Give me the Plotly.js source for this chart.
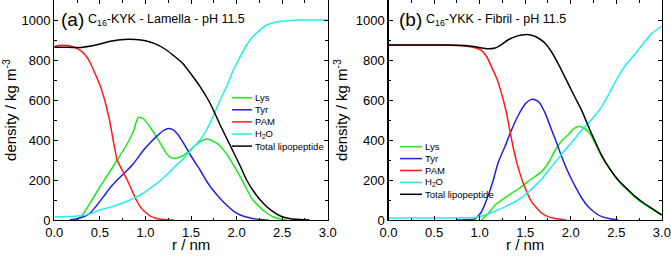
<!DOCTYPE html>
<html>
<head>
<meta charset="utf-8">
<script src="https://cdn.plot.ly/plotly-3.0.1.min.js"></script>
<style>html,body{margin:0;padding:0;background:#fff;}#chart{width:671px;height:259px;}</style>
</head>
<body>
<div id="chart"></div>
<script>
// ---- Panel (a): C16-KYK Lamella pH 11.5 ----
const a_lys_r = [0.25, 0.3, 0.4, 0.5, 0.6, 0.69, 0.78, 0.87, 0.92, 0.98, 1.05, 1.12, 1.18, 1.23, 1.28, 1.32, 1.38, 1.45, 1.52, 1.6, 1.67, 1.74, 1.82, 1.89, 1.96, 2.04, 2.11, 2.18, 2.26, 2.33, 2.4, 2.48, 2.55];
const a_lys_d = [0, 20, 90, 165, 235, 300, 365, 445, 513, 505, 465, 417, 370, 333, 312, 308, 315, 333, 362, 392, 405, 395, 370, 330, 280, 217, 155, 100, 62, 35, 16, 5, 0];
const a_tyr_r = [0.17, 0.25, 0.32, 0.39, 0.46, 0.54, 0.61, 0.69, 0.78, 0.87, 0.98, 1.05, 1.12, 1.19, 1.25, 1.3, 1.36, 1.42, 1.5, 1.6, 1.67, 1.74, 1.82, 1.89, 1.96, 2.04, 2.15, 2.26, 2.35];
const a_tyr_d = [0, 6, 16, 33, 70, 117, 160, 200, 240, 283, 350, 385, 417, 445, 458, 452, 425, 383, 320, 250, 195, 150, 108, 75, 47, 25, 10, 3, 0];
const a_pam_r = [0.0, 0.05, 0.1, 0.15, 0.2, 0.25, 0.3, 0.34, 0.39, 0.43, 0.5, 0.55, 0.58, 0.61, 0.65, 0.69, 0.75, 0.8, 0.85, 0.9, 0.95, 1.01, 1.06, 1.12, 1.2, 1.31];
const a_pam_d = [868, 872, 874, 872, 866, 858, 843, 825, 790, 750, 675, 605, 550, 490, 390, 300, 245, 200, 150, 100, 62, 35, 18, 8, 3, 0];
const a_h2o_r = [0.0, 0.1, 0.2, 0.32, 0.4, 0.5, 0.6, 0.69, 0.78, 0.87, 0.96, 1.05, 1.14, 1.23, 1.32, 1.42, 1.5, 1.6, 1.67, 1.75, 1.82, 1.89, 1.96, 2.04, 2.11, 2.18, 2.26, 2.33, 2.42, 2.51, 2.6, 2.7, 2.8, 3.0];
const a_h2o_d = [15, 16, 18, 22, 32, 50, 62, 75, 90, 108, 130, 158, 188, 225, 265, 308, 350, 400, 450, 525, 600, 667, 745, 817, 875, 917, 952, 975, 988, 995, 998, 1000, 1000, 1000];
const a_tot_r = [0.0, 0.1, 0.2, 0.28, 0.4, 0.5, 0.6, 0.7, 0.83, 0.95, 1.05, 1.15, 1.23, 1.32, 1.41, 1.5, 1.6, 1.69, 1.74, 1.82, 1.89, 1.96, 2.04, 2.11, 2.2, 2.29, 2.38, 2.48, 2.59, 2.7, 2.8];
const a_tot_d = [864, 864, 863, 862, 870, 880, 892, 900, 904, 900, 890, 872, 850, 818, 783, 730, 667, 600, 555, 475, 410, 345, 270, 200, 135, 85, 48, 20, 6, 2, 0];

// ---- Panel (b): C16-YKK Fibril pH 11.5 ----
const b_lys_r = [1.02, 1.1, 1.17, 1.26, 1.35, 1.44, 1.53, 1.6, 1.68, 1.76, 1.83, 1.9, 1.97, 2.03, 2.08, 2.14, 2.21, 2.28, 2.34, 2.43, 2.52, 2.62, 2.71, 2.8, 2.89, 3.0];
const b_lys_d = [0, 35, 75, 105, 133, 160, 192, 215, 242, 290, 350, 395, 425, 455, 468, 460, 432, 372, 318, 253, 198, 150, 112, 80, 55, 25];
const b_tyr_r = [0.75, 0.85, 0.95, 1.02, 1.09, 1.15, 1.2, 1.28, 1.35, 1.42, 1.5, 1.56, 1.6, 1.65, 1.72, 1.79, 1.85, 1.9, 1.97, 2.05, 2.12, 2.19, 2.27, 2.34, 2.43, 2.52];
const b_tyr_d = [0, 1, 6, 40, 117, 200, 283, 370, 450, 520, 580, 602, 603, 590, 533, 450, 380, 317, 240, 167, 110, 67, 35, 17, 6, 0];
const b_pam_r = [0.0, 0.2, 0.4, 0.6, 0.75, 0.88, 0.96, 1.02, 1.08, 1.13, 1.19, 1.24, 1.29, 1.33, 1.37, 1.41, 1.48, 1.57, 1.68, 1.75, 1.83, 1.95];
const b_pam_d = [875, 875, 875, 875, 873, 868, 860, 848, 815, 767, 705, 633, 545, 450, 360, 283, 183, 92, 35, 17, 7, 0];
const b_h2o_r = [0.0, 0.3, 0.6, 0.8, 0.95, 1.02, 1.09, 1.16, 1.24, 1.33, 1.42, 1.51, 1.6, 1.7, 1.79, 1.88, 1.97, 2.05, 2.12, 2.19, 2.27, 2.34, 2.43, 2.52, 2.61, 2.71, 2.8, 2.89, 3.0];
const b_h2o_d = [10, 10, 10, 11, 13, 20, 30, 42, 58, 78, 100, 130, 167, 215, 267, 318, 367, 410, 450, 483, 525, 567, 640, 717, 780, 833, 885, 933, 970];
const b_tot_r = [0.0, 0.3, 0.6, 0.85, 0.95, 1.02, 1.09, 1.17, 1.24, 1.31, 1.4, 1.46, 1.52, 1.6, 1.66, 1.72, 1.79, 1.86, 1.97, 2.05, 2.12, 2.21, 2.28, 2.34, 2.43, 2.52, 2.62, 2.71, 2.8, 2.89, 3.0];
const b_tot_d = [875, 875, 875, 873, 866, 860, 856, 860, 877, 900, 918, 925, 928, 920, 905, 883, 840, 783, 683, 610, 548, 450, 380, 322, 255, 200, 155, 117, 85, 58, 25];

const legendNames = ['Lys', 'Tyr', 'PAM', 'H<sub>2</sub>O', 'Total lipopeptide'];
const colors = ['#1ee81e', '#2020e0', '#ff1a1a', '#22eeee', '#000000'];
const panelLabels = ['(a)', '(b)'];
const panelTitles = ['C<sub>16</sub>-KYK - Lamella - pH 11.5', 'C<sub>16</sub>-YKK - Fibril - pH 11.5'];
const xTitle = 'r / nm';
const yTitle = 'density / kg m<sup>-3</sup>';

const W = 671, H = 259, MB = 39;
const PH = H - MB; // plot-area (paper) height in px
const py = (px) => 1 - px / PH; // convert pixel row to paper y

const panelA = [[a_lys_r, a_lys_d], [a_tyr_r, a_tyr_d], [a_pam_r, a_pam_d], [a_h2o_r, a_h2o_d], [a_tot_r, a_tot_d]];
const panelB = [[b_lys_r, b_lys_d], [b_tyr_r, b_tyr_d], [b_pam_r, b_pam_d], [b_h2o_r, b_h2o_d], [b_tot_r, b_tot_d]];

const traces = [];
[panelA, panelB].forEach((panel, p) => {
  panel.forEach((s, i) => {
    traces.push({
      x: s[0], y: s[1], type: 'scatter', mode: 'lines',
      line: {color: colors[i], width: 1.5, shape: 'spline', smoothing: 0.5},
      xaxis: p === 0 ? 'x' : 'x2', yaxis: p === 0 ? 'y' : 'y2',
      showlegend: false, hoverinfo: 'skip'
    });
  });
});

const fontFam = 'Liberation Sans, Arial, sans-serif';
function axisX(dom, anchor) {
  return {
    domain: dom, anchor: anchor, range: [0, 3], dtick: 0.5, tick0: 0, tickformat: '.1f',
    ticks: 'inside', ticklen: 4, tickwidth: 1, tickcolor: '#000',
    minor: {dtick: 0.25, ticks: 'inside', ticklen: 2.5, tickwidth: 1, tickcolor: '#000'},
    showline: true, linecolor: '#000', linewidth: 1.2, mirror: 'ticks',
    showgrid: false, zeroline: false,
    tickfont: {family: fontFam, size: 13, color: '#000'}
  };
}
function axisY(anchor) {
  return {
    domain: [0, 1], anchor: anchor, range: [0, 1100], dtick: 200, tick0: 0,
    ticks: 'inside', ticklen: 4, tickwidth: 1, tickcolor: '#000',
    minor: {dtick: 100, ticks: 'inside', ticklen: 2.5, tickwidth: 1, tickcolor: '#000'},
    showline: true, linecolor: '#000', linewidth: 1.2, mirror: 'ticks',
    showgrid: false, zeroline: false,
    tickfont: {family: fontFam, size: 13, color: '#000'},
    title: {text: yTitle, font: {family: fontFam, size: 15, color: '#000'}, standoff: 4}
  };
}

const xDomA = [54.3 / W, 327.7 / W];
const xDomB = [388.5 / W, 661.9 / W];

const annotations = [];
const shapes = [];
const labelX = [59, 396.5];
const titleX = [86, 424];
const xTitleX = [191, 525];
for (let p = 0; p < 2; p++) {
  annotations.push({xref: 'paper', yref: 'paper', x: labelX[p] / W, y: py(19), xanchor: 'left', yanchor: 'middle',
    text: panelLabels[p], showarrow: false, font: {family: fontFam, size: 19, color: '#000'}});
  annotations.push({xref: 'paper', yref: 'paper', x: titleX[p] / W, y: py(20), xanchor: 'left', yanchor: 'middle',
    text: panelTitles[p], showarrow: false, font: {family: fontFam, size: 12.5, color: '#000'}});
  annotations.push({xref: 'paper', yref: 'paper', x: xTitleX[p] / W, y: py(245), xanchor: 'center', yanchor: 'middle',
    text: xTitle, showarrow: false, font: {family: fontFam, size: 15, color: '#000'}, borderpad: 0});
}
// legends (drawn as keys + labels)
const legX0 = [232, 400], legX1 = [252, 422], legTx = [254, 424];
const legY0 = [97.7, 146.7], legDy = [12.1, 11.9];
for (let p = 0; p < 2; p++) {
  legendNames.forEach((nm, i) => {
    const yy = legY0[p] + legDy[p] * i;
    shapes.push({type: 'line', xref: 'paper', yref: 'paper', x0: legX0[p] / W, x1: legX1[p] / W, y0: py(yy), y1: py(yy),
      line: {color: colors[i], width: 1.5}});
    annotations.push({xref: 'paper', yref: 'paper', x: legTx[p] / W, y: py(yy), xanchor: 'left', yanchor: 'middle',
      text: nm, showarrow: false, font: {family: fontFam, size: 9.5, color: '#000'}, borderpad: 0});
  });
}

const layout = {
  width: W, height: H,
  margin: {l: 0, r: 0, t: 0, b: MB, pad: 0},
  paper_bgcolor: '#fff', plot_bgcolor: '#fff',
  xaxis: axisX(xDomA, 'y'),
  yaxis: axisY('x'),
  xaxis2: axisX(xDomB, 'y2'),
  yaxis2: axisY('x2'),
  annotations: annotations,
  shapes: shapes,
  showlegend: false
};

Plotly.newPlot('chart', traces, layout, {displayModeBar: false, staticPlot: true});
</script>
</body>
</html>
